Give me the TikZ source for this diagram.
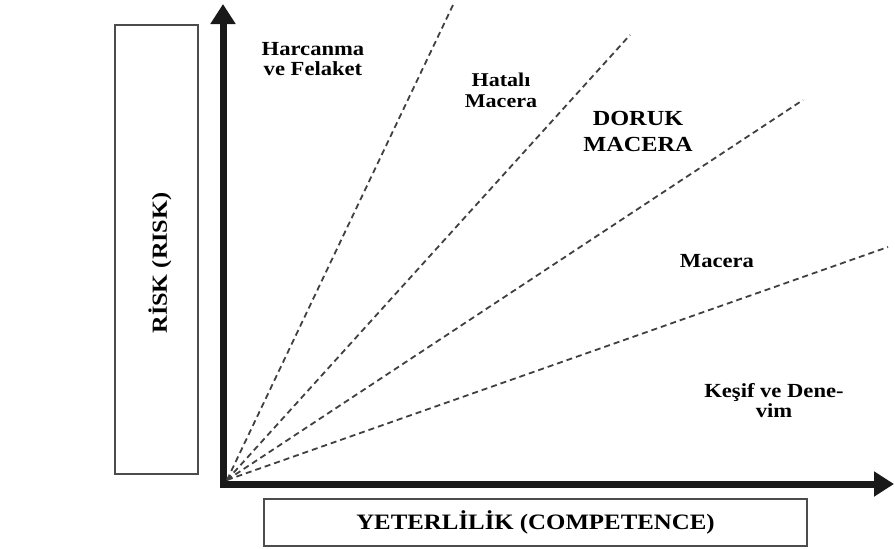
\documentclass[tikz,border=0pt]{standalone}
\usepackage{fontspec}
\setmainfont{Liberation Serif}[FakeStretch=1.13]
\usepackage{xcolor}
\usepackage{tikz}
\usetikzlibrary{arrows.meta, positioning}

\tikzset{
  frame/.style={draw=black!70, line width=1.3pt, inner sep=0pt},
  axis/.style={draw=black!90, line width=7pt, line join=miter,
    {Triangle[length=20pt, width=24pt]}-{Triangle[length=20pt, width=24pt]}},
  ray/.style={draw=black!75, line width=1.8pt, dash pattern=on 6pt off 4pt},
  zone/.style={inner sep=0pt, align=center, font=\bfseries\fontsize{20}{20}\selectfont},
  bigzone/.style={inner sep=0pt, align=center, font=\bfseries\fontsize{21.5}{26}\selectfont},
  axislabel/.style={inner sep=0pt, font=\bfseries\fontsize{21.5}{24}\selectfont}
}

\begin{document}
\begin{tikzpicture}[x=1pt, y=-1pt]
\useasboundingbox (0,0) rectangle (895,549);

% axes
\coordinate (O) at (223,484);
\coordinate (ytip) at (223,4);
\coordinate (xtip) at (894,484);
\draw[axis] (ytip) -- (O) -- (xtip);

% rays from the origin
\coordinate (F) at (227,480);
\coordinate (r1) at (453,5);
\coordinate (r2) at (630,35);
\coordinate (r3) at (803,100);
\coordinate (r4) at (888,247);
\foreach \r in {r1,r2,r3,r4}
  \draw[ray] (F) -- (\r);

% axis boxes
\node[frame, minimum width=83pt, minimum height=449pt] (riskbox) at (156.5,249.5) {};
\node[axislabel, rotate=90] (risk) at (160,263) {RİSK (RISK)};
\node[frame, minimum width=543pt, minimum height=47pt, font=\bfseries\fontsize{22}{24}\selectfont] (compbox) at (535.5,522.5) {YETERLİLİK (COMPETENCE)};

% zones
\node[zone] (harcanma) at (313,59) {Harcanma\\ve Felaket};
\node[zone, font=\bfseries\fontsize{19.5}{21}\selectfont] (hatali) at (501,90) {Hatalı\\Macera};
\node[bigzone] (doruk) at (638,131.5) {DORUK\\MACERA};
\node[zone] (macera) at (717,261) {Macera};
\node[zone] (kesif) at (774,400.5) {Keşif ve Dene-\\vim};
\end{tikzpicture}
\end{document}
